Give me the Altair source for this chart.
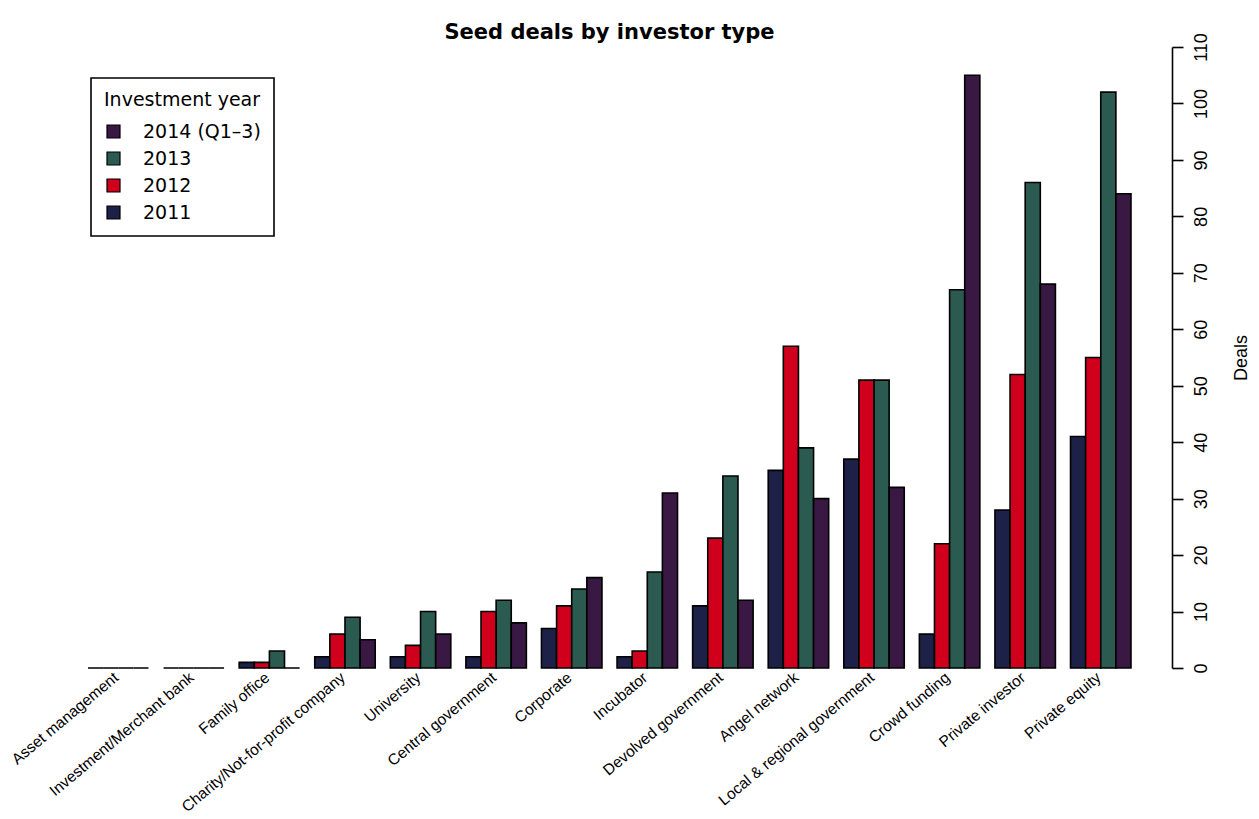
import altair as alt
import pandas as pd

categories = ["Asset management", "Investment/Merchant bank", "Family office",
              "Charity/Not-for-profit company", "University", "Central government",
              "Corporate", "Incubator", "Devolved government", "Angel network",
              "Local & regional government", "Crowd funding", "Private investor",
              "Private equity"]
years = ["2011", "2012", "2013", "2014 (Q1–3)"]
deals_2011 = [0, 0, 1, 2, 2, 2, 7, 2, 11, 35, 37, 6, 28, 41]
deals_2012 = [0, 0, 1, 6, 4, 10, 11, 3, 23, 57, 51, 22, 52, 55]
deals_2013 = [0, 0, 3, 9, 10, 12, 14, 17, 34, 39, 51, 67, 86, 102]
deals_2014 = [0, 0, 0, 5, 6, 8, 16, 31, 12, 30, 32, 105, 68, 84]
colors = ["#1d2148", "#d0001c", "#2b5a50", "#3a1844"]

rows = []
for series, yr in zip([deals_2011, deals_2012, deals_2013, deals_2014], years):
    for c, v in zip(categories, series):
        rows.append({"type": c, "year": yr, "deals": v})
df = pd.DataFrame(rows)

FONT = "Liberation Sans"
WIDE = "DejaVu Sans"

chart = alt.Chart(df).mark_bar(stroke="black", strokeWidth=1.6).encode(
    x=alt.X("type:N", sort=categories,
            scale=alt.Scale(paddingInner=0.2, paddingOuter=0.106),
            axis=alt.Axis(title=None, domain=False, ticks=False, labelAngle=-40,
                          labelAlign="right", labelBaseline="middle",
                          labelFontSize=15.5, labelColor="black", labelPadding=7,
                          labelOffset=-2, labelFont=FONT, labelLimit=0)),
    xOffset=alt.XOffset("year:N", sort=years),
    y=alt.Y("deals:Q", scale=alt.Scale(domain=[0, 110], nice=False),
            axis=alt.Axis(orient="right", values=list(range(0, 111, 10)), title="Deals",
                          grid=False, offset=33, tickSize=11, tickWidth=1.6,
                          domainWidth=1.6, domainColor="black", tickColor="black",
                          labelAngle=-90, labelAlign="center", labelBaseline="top",
                          labelFontSize=18, labelColor="black", labelPadding=9,
                          labelFont=FONT, titleFont=FONT, titleFontSize=18,
                          titleFontWeight="normal", titleColor="black",
                          titleAngle=270, titleBaseline="bottom",
                          titlePadding=40)),
    color=alt.Color("year:N", sort=years,
                    scale=alt.Scale(domain=years, range=colors),
                    legend=alt.Legend(title="Investment year", orient="none",
                                      legendX=11, legendY=31,
                                      values=list(reversed(years)),
                                      symbolType="square", symbolSize=169,
                                      symbolStrokeColor="black", symbolStrokeWidth=1.2,
                                      symbolOpacity=1,
                                      labelFontSize=19, titleFontSize=19,
                                      titleFontWeight="normal", labelFont=WIDE,
                                      titleFont=WIDE, labelColor="black",
                                      titleColor="black", rowPadding=7,
                                      strokeColor="black", fillColor="white",
                                      padding=13, titlePadding=12, labelOffset=20)),
).properties(
    width=1059, height=621,
    title=alt.TitleParams("Seed deals by investor type", font=WIDE, fontSize=21,
                          fontWeight="bold", color="black", anchor="middle",
                          offset=-10, frame="group"),
    autosize=alt.AutoSizeParams(type="none"),
    padding={"left": 72, "top": 39, "right": 112, "bottom": 146},
).configure_view(stroke=None).configure_legend(strokeWidth=1.6)

chart.save("out.html", embed_options={"renderer": "svg", "actions": False})
